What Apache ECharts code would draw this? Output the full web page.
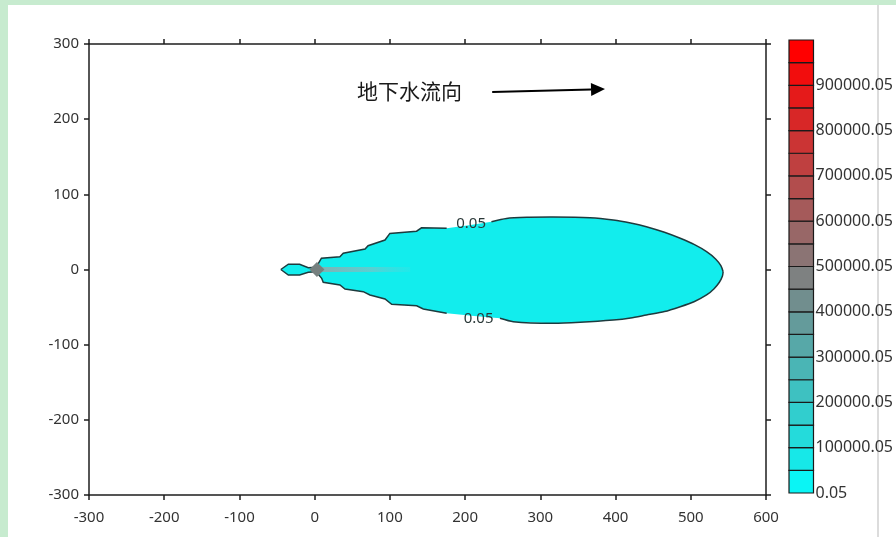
<!DOCTYPE html>
<html><head><meta charset="utf-8">
<script src="https://cdn.jsdelivr.net/npm/echarts@6/dist/echarts.min.js"></script>
<style>
html,body{margin:0;padding:0;width:896px;height:537px;overflow:hidden;background:#fff;}
#topbar{position:absolute;left:0;top:0;width:896px;height:5px;background:#c7ebcf;}
#leftbar{position:absolute;left:0;top:0;width:8px;height:537px;background:#c7ebcf;}
#vline{position:absolute;left:877px;top:5px;width:2px;height:532px;background:#dcdcdc;}
#chart{position:absolute;left:0;top:0;width:896px;height:537px;}
</style></head><body>
<div id="topbar"></div><div id="leftbar"></div><div id="vline"></div>
<div id="chart"></div>
<script>
// ---- data ----
const xTicks = [-300, -200, -100, 0, 100, 200, 300, 400, 500, 600];
const yTicks = [-300, -200, -100, 0, 100, 200, 300];
const colorLevels = [0.05, 50000.05, 100000.05, 150000.05, 200000.05, 250000.05, 300000.05, 350000.05, 400000.05, 450000.05,
  500000.05, 550000.05, 600000.05, 650000.05, 700000.05, 750000.05, 800000.05, 850000.05, 900000.05, 950000.05, 1000000.05];
const colorLabels = ['0.05', '100000.05', '200000.05', '300000.05', '400000.05', '500000.05', '600000.05', '700000.05', '800000.05', '900000.05'];
// 0.05 contour, upper edge (left tip -> right tip)
const plumeUpper = [[-45,0],[-35,7],[-20,7],[-8.5,2.4],[2,3],[9,15],[33.5,17],[38,21.6],[67,27.3],[71,31.7],[93.5,39.2],[100,48],
  [135.5,51],[142,55.5],[175.5,55],[205,59],[235,63.6],[255,68],[285,69.5],[317,70],[366,69],[397,66],[420,62],[441,57],[465,49.5],
  [486,41.5],[505,33],[521,23.7],[533,14],[540,5],[543,-3]];
// 0.05 contour, lower edge (left tip -> right tip)
const plumeLower = [[-45,0],[-35,-7.3],[-20,-7.3],[-8.5,-3.7],[2,-3],[9.3,-11.7],[11.4,-17],[33.6,-20.6],[40.3,-25.9],[64.6,-29.5],[73.5,-33.9],
  [93.5,-39.2],[102.4,-46.3],[135.6,-48.2],[144.4,-52.5],[175.5,-58.3],[212,-62],[246.3,-64.9],[264,-69.4],[317,-71.6],[353,-70.2],
  [397,-67.2],[420,-64.5],[441,-60.5],[465,-56],[486,-49.5],[505,-42.5],[521,-33.9],[531,-25.5],[538,-17],[542,-9],[543,-3]];
const sourceCore = [[-7,0],[3,10],[13,0],[3,-10]];
const sourceStreak = [[0,0],[127,0]];
const contourLabels = [[208,61,'0.05'],[218,-65,'0.05']];
const flowArrow = [[236,236],[386,240]];
const flowText = [126,237.5,'地下水流向'];

// ---- styles ----
const FONT = 'Noto Sans';
const AX = '#1e1e1e';
function levelColor(i, n){
  const t = i/(n-1);
  const r = Math.round(10 + 245*t), g = Math.round(245*(1-t)), b = Math.round(245*(1-t));
  return 'rgb('+r+','+g+','+b+')';
}

const chart = echarts.init(document.getElementById('chart'), null, {renderer:'canvas'});
const axBase = {
  type:'value', gridIndex:0,
  axisLine:{show:true, onZero:false, lineStyle:{color:AX, width:1.5}},
  axisTick:{show:true, inside:false, length:5, lineStyle:{color:AX, width:1.5}},
  splitLine:{show:false}
};
const option = {
  animation:false,
  backgroundColor:'transparent',
  grid:[
    {left:89, top:44, width:677, height:451},
    {left:789, top:40, width:28, height:453}
  ],
  xAxis:[
    Object.assign({}, axBase, {position:'bottom', min:xTicks[0], max:xTicks[xTicks.length-1], interval:100,
      axisLabel:{margin:15, fontSize:15, color:'#333', fontFamily:FONT}}),
    Object.assign({}, axBase, {position:'top', min:xTicks[0], max:xTicks[xTicks.length-1], interval:100, axisLabel:{show:false}}),
    {type:'value', gridIndex:1, min:0, max:1, show:false}
  ],
  yAxis:[
    Object.assign({}, axBase, {position:'left', min:yTicks[0], max:yTicks[yTicks.length-1], interval:100,
      axisLabel:{margin:10, fontSize:15, color:'#333', fontFamily:FONT}}),
    Object.assign({}, axBase, {position:'right', min:yTicks[0], max:yTicks[yTicks.length-1], interval:100, axisLabel:{show:false}}),
    {type:'value', gridIndex:1, position:'right', min:0, max:1000000, interval:100000,
      axisLine:{show:false}, axisTick:{show:false}, splitLine:{show:false},
      axisLabel:{margin:2, fontSize:16, color:'#333', fontFamily:FONT,
        formatter:function(v){ const k = Math.round(v/100000); return k < colorLabels.length ? colorLabels[k] : ''; }}}
  ],
  series:[
    {
      type:'custom', xAxisIndex:0, yAxisIndex:0, data:[[0,0]], clip:true,
      renderItem:function(params, api){
        const poly = plumeUpper.concat(plumeLower.slice(1,-1).reverse()).map(p=>api.coord(p));
        const children = [];
        children.push({type:'polygon', shape:{points:poly}, style:{fill:'#12eded', stroke:null}});
        // source streak
        const s0 = api.coord(sourceStreak[0]), s1 = api.coord(sourceStreak[1]);
        children.push({type:'line', shape:{x1:s0[0],y1:s0[1],x2:s1[0],y2:s1[1]},
          style:{lineWidth:5, stroke:{type:'linear', x:s0[0], y:0, x2:s1[0], y2:0, global:true,
            colorStops:[{offset:0,color:'rgba(140,170,172,0.95)'},{offset:0.6,color:'rgba(120,195,198,0.7)'},{offset:1,color:'rgba(60,225,228,0.3)'}]}}});
        // outline with gaps at labels
        function segs(arr, lx){
          const a = [], b = [];
          arr.forEach(p => { if (p[0] <= lx - 25) a.push(api.coord(p)); else if (p[0] >= lx + 25) b.push(api.coord(p)); });
          return [a, b];
        }
        const up = segs(plumeUpper, contourLabels[0][0]);
        const lo = segs(plumeLower, contourLabels[1][0]);
        [up[0], lo[0]].forEach(pts => {
          children.push({type:'polyline', shape:{points:pts}, style:{stroke:'#1d3b3e', lineWidth:1.5, fill:null}});
        });
        [up[1], lo[1]].forEach(pts => {
          children.push({type:'polyline', shape:{points:pts, smooth:0.25}, style:{stroke:'#1d3b3e', lineWidth:1.5, fill:null}});
        });
        // source core
        children.push({type:'polygon', shape:{points:sourceCore.map(p=>api.coord(p))}, style:{fill:'#76807f'}});
        // contour labels
        contourLabels.forEach(l => {
          const c = api.coord([l[0], l[1]]);
          children.push({type:'text', x:c[0], y:c[1], style:{text:l[2], fontSize:15, fontFamily:FONT, fill:'#2a3838', align:'center', verticalAlign:'middle'}});
        });
        // flow arrow + text
        const a0 = api.coord(flowArrow[0]), a1 = api.coord(flowArrow[1]);
        const dx = a1[0]-a0[0], dy = a1[1]-a0[1], L = Math.sqrt(dx*dx+dy*dy), ux = dx/L, uy = dy/L;
        const hl = 14, hw = 6.5;
        const bx = a1[0]-ux*hl, by = a1[1]-uy*hl;
        children.push({type:'line', shape:{x1:a0[0],y1:a0[1],x2:bx,y2:by}, style:{stroke:'#000', lineWidth:2}});
        children.push({type:'polygon', shape:{points:[[a1[0],a1[1]],[bx-uy*hw,by+ux*hw],[bx+uy*hw,by-ux*hw]]}, style:{fill:'#000'}});
        const tc = api.coord([flowText[0], flowText[1]]);
        children.push({type:'text', x:tc[0], y:tc[1], style:{text:flowText[2], fontSize:21, fontFamily:'Noto Sans CJK SC', fill:'#1a1a1a', align:'center', verticalAlign:'middle'}});
        return {type:'group', children:children};
      }
    },
    {
      type:'custom', xAxisIndex:2, yAxisIndex:2,
      data: colorLevels.slice(0,-1).map((v,i)=>[v, colorLevels[i+1], i]),
      encode:{y:[0,1]},
      renderItem:function(params, api){
        const lo = api.value(0), hi = api.value(1), i = api.value(2);
        const p0 = api.coord([0, lo]), p1 = api.coord([1, hi]);
        return {type:'rect', shape:{x:p0[0], y:p1[1], width:p1[0]-p0[0], height:p0[1]-p1[1]},
          style:{fill:levelColor(i, colorLevels.length-1), stroke:'#1a1a1a', lineWidth:1.2}};
      }
    }
  ]
};
chart.setOption(option);
</script>
</body></html>
